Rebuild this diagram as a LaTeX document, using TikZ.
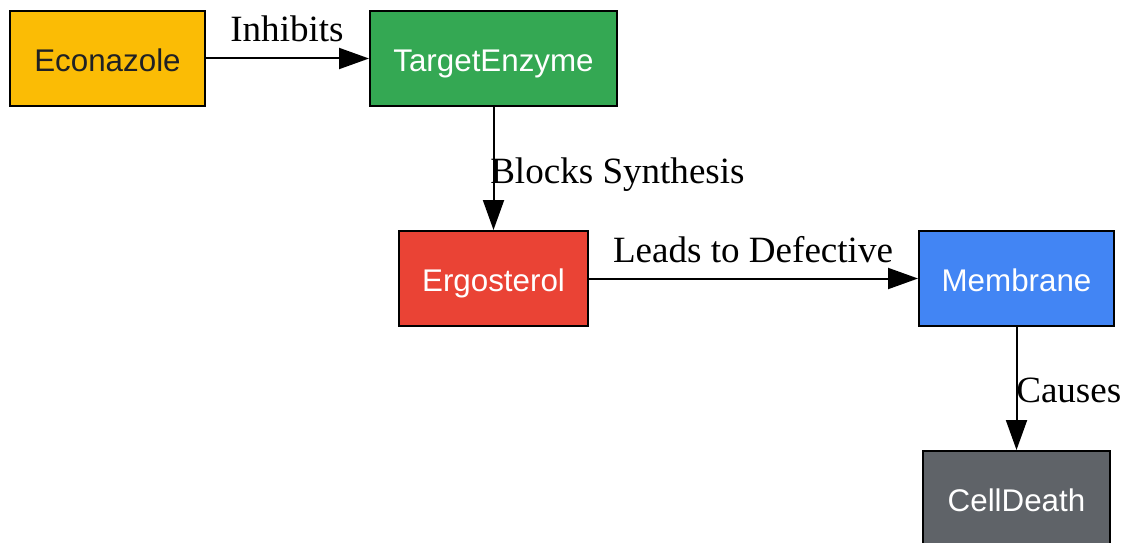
\documentclass[tikz,border=0pt]{standalone}
\usepackage{fontspec}
\setmainfont{Liberation Serif}
\newfontfamily\nodefont{Liberation Sans}
\usetikzlibrary{arrows.meta}
\definecolor{cyellow}{HTML}{FBBC05}
\definecolor{cgreen}{HTML}{34A853}
\definecolor{cred}{HTML}{EA4335}
\definecolor{cblue}{HTML}{4285F4}
\definecolor{cgray}{HTML}{5F6368}
\definecolor{ctext}{HTML}{202124}
\tikzset{
  box/.style={draw=black, line width=1.5pt, rectangle, minimum height=71.25pt, inner sep=0pt,
    text height=23.8pt, text depth=5pt,
    font=\nodefont\fontsize{23.5}{28}\selectfont, text=white},
  conn/.style={line width=1.5pt, -{Triangle[length=22.5pt,width=15.75pt]}},
  lbl/.style={font=\fontsize{27.8}{32}\selectfont, inner sep=0pt, anchor=base}
}
\begin{document}
\begin{tikzpicture}[x=0.75pt,y=-0.75pt]
\useasboundingbox (0,0) rectangle (1123,542);
\node[box, fill=cyellow, text=ctext, minimum width=146.25pt] (econ) at (107.5,58.5) {Econazole};
\node[box, fill=cgreen, minimum width=185.25pt] (enz) at (493.5,58.5) {TargetEnzyme};
\node[box, fill=cred, minimum width=141.75pt] (erg) at (493.5,278.5) {Ergosterol};
\node[box, fill=cblue, minimum width=146.25pt] (mem) at (1016.5,278.5) {Membrane};
\node[box, fill=cgray, minimum width=140.25pt] (death) at (1016.5,498.5) {CellDeath};
\draw[conn] (econ) -- (enz);
\draw[conn] (enz) -- (erg);
\draw[conn] (erg) -- (mem);
\draw[conn] (mem) -- (death);
\node[lbl] (l1) at (287,42) {Inhibits};
\node[lbl, anchor=base west] (l2) at (490,183) {Blocks Synthesis};
\node[lbl] (l3) at (753,262) {Leads to Defective};
\node[lbl, anchor=base west] (l4) at (1016,402) {Causes};
\end{tikzpicture}
\end{document}
